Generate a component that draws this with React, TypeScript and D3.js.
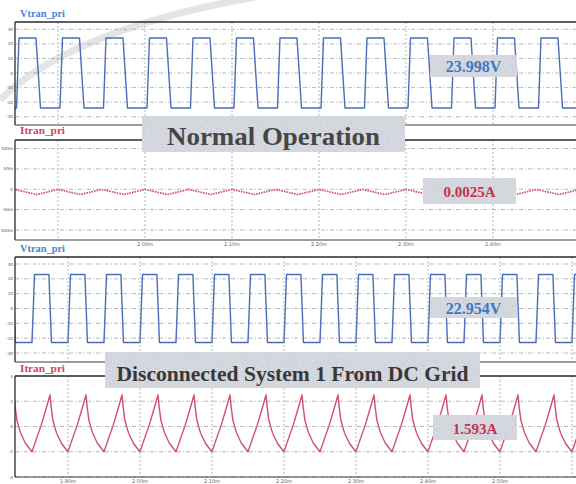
import React from "react";
import * as d3 from "d3";

const W = 576;
const H = 484;

// Switching period (ms) and the time window gridlines of each pair of panels
const period = 0.05;
const normalGridTimes = [1.9, 2.0, 2.1, 2.2, 2.3, 2.4];
const faultGridTimes = [1.9, 2.0, 2.1, 2.2, 2.3, 2.4, 2.5, 2.6];

// Axis ticks
const voltTicks = [30, 20, 10, 0, -10, -20, -30];
const normalCurrentTicks = [100, 50, 0, -50, -100];
const normalCurrentTickLabels = ["100m", "50m", "0", "-50m", "-100m"];
const faultCurrentTicks = [4, 2, 0, -2, -4];

// One switching cycle of each trace: [phase within the period, value]
const vNormalCycle: [number, number][] = [
  [0, -23.998], [0.057, 23.998], [0.448, 23.998], [0.552, -23.998], [1, -23.998],
];
const iNormalCycle: [number, number][] = [
  [0, -1.5], [0.47, -13], [0.95, -0.5], [1, -1.5],
];
const vFaultCycle: [number, number][] = [
  [0, -22.954], [0.07, 22.954], [0.47, 22.954], [0.54, -22.954], [1, -22.954],
];
const iFaultCycle: [number, number][] = [
  [0, -2.0], [0.12, -1.0], [0.25, 0.05], [0.375, 1.25], [0.5, 2.5],
  [0.53, 1.6], [0.58, 0.5], [0.68, -0.5], [0.82, -1.35], [1, -2.0],
];

// Start of a rising edge for each operating case (ms)
const normalEdge = 1.9023;
const faultEdge = 1.85;

// Readouts
const readouts = ["23.998V", "0.0025A", "22.954V", "1.593A"];
const traceNames = ["Vtran_pri", "Itran_pri", "Vtran_pri", "Itran_pri"];
const banners = ["Normal Operation", "Disconnected System 1 From DC Grid"];

const BLUE = "#4a6db8";
const RED = "#cf4f72";
const LEFT = 15;
const RIGHT = 582;

const xNormal = d3.scaleLinear().domain([1.9, 2.0]).range([58, 145]);
const xFault = d3.scaleLinear().domain([1.9, 2.0]).range([68, 140]);

function wave(cycle: [number, number][], edge: number, x: d3.ScaleLinear<number, number>) {
  const t0 = x.invert(LEFT);
  const t1 = x.invert(RIGHT);
  const kMin = Math.floor((t0 - edge) / period) - 1;
  const kMax = Math.ceil((t1 - edge) / period) + 1;
  const pts: [number, number][] = [];
  for (let k = kMin; k <= kMax; k++) {
    cycle.forEach(([ph, v], i) => {
      if (i === cycle.length - 1) return;
      pts.push([edge + (k + ph) * period, v]);
    });
  }
  return pts;
}

type PanelProps = {
  id: string;
  top: number;
  bottom: number;
  y: d3.ScaleLinear<number, number>;
  x: d3.ScaleLinear<number, number>;
  yTicks: number[];
  yLabels: string[];
  gridTimes: number[];
  data: [number, number][];
  color: string;
  dash?: string;
  name: string;
  nameColor: string;
  nameBaseline: number;
  xLabels: boolean;
};

function Panel(p: PanelProps) {
  const line = d3
    .line<[number, number]>()
    .x((d) => p.x(d[0]))
    .y((d) => p.y(d[1]));
  return (
    <g>
      <clipPath id={p.id}>
        <rect x={LEFT} y={p.top} width={RIGHT - LEFT} height={p.bottom - p.top} />
      </clipPath>
      {p.yTicks.map((v, i) => (
        <g key={"h" + v}>
          <line
            x1={LEFT}
            x2={RIGHT}
            y1={p.y(v)}
            y2={p.y(v)}
            stroke="#9a9a9a"
            strokeWidth={0.7}
            strokeDasharray="4,2,1,2"
          />
          <text
            x={13}
            y={p.y(v) + 1.6}
            fontSize={4.2}
            textAnchor="end"
            fill="#555"
            fontFamily="DejaVu Sans"
          >
            {p.yLabels[i]}
          </text>
        </g>
      ))}
      {p.gridTimes.map((t) => (
        <g key={"v" + t}>
          <line
            x1={p.x(t)}
            x2={p.x(t)}
            y1={p.top}
            y2={p.bottom}
            stroke="#9a9a9a"
            strokeWidth={0.7}
            strokeDasharray="2,2"
          />
          {p.xLabels && p.x(t) > 62 && p.x(t) < 560 && (
            <text
              x={p.x(t)}
              y={p.bottom + 6}
              fontSize={5}
              textAnchor="middle"
              fill="#666"
              fontFamily="DejaVu Sans"
            >
              {t.toFixed(2) + "m"}
            </text>
          )}
        </g>
      ))}
      <path
        d={line(p.data) || ""}
        fill="none"
        stroke={p.color}
        strokeWidth={p.dash ? 1.7 : 1.4}
        strokeDasharray={p.dash}
        strokeLinejoin="round"
        clipPath={`url(#${p.id})`}
      />
      <line x1={LEFT} x2={RIGHT} y1={p.top} y2={p.top} stroke="#2a2a2a" strokeWidth={1.5} />
      <line x1={LEFT} x2={RIGHT} y1={p.bottom} y2={p.bottom} stroke="#3a3a3a" strokeWidth={1.2} />
      <line x1={LEFT} x2={LEFT} y1={p.top} y2={p.bottom} stroke="#2a2a2a" strokeWidth={1.3} />
      <text
        x={20}
        y={p.nameBaseline}
        fontSize={10}
        fontWeight="bold"
        fill={p.nameColor}
        fontFamily="Liberation Serif"
        textLength={45}
        lengthAdjust="spacingAndGlyphs"
      >
        {p.name}
      </text>
    </g>
  );
}

function Tag(props: {
  x: number;
  y: number;
  w: number;
  h: number;
  text: string;
  color: string;
  size: number;
  baseline: number;
  len?: number;
}) {
  return (
    <g>
      <rect x={props.x} y={props.y} width={props.w} height={props.h} fill="#d9dce2" />
      <rect
        x={props.x}
        y={props.y}
        width={props.w}
        height={props.h}
        fill="#fff"
        filter="url(#grain)"
      />
      <text
        x={props.x + props.w / 2}
        y={props.baseline}
        textAnchor="middle"
        fontSize={props.size}
        fontWeight="bold"
        fill={props.color}
        fontFamily="Liberation Serif"
        textLength={props.len}
        lengthAdjust={props.len ? "spacingAndGlyphs" : undefined}
      >
        {props.text}
      </text>
    </g>
  );
}

export default function App() {
  const yV1 = d3.scaleLinear().domain([-30, 30]).range([116.7, 29.3]);
  const yI1 = d3.scaleLinear().domain([-100, 100]).range([230, 148.5]);
  const yV2 = d3.scaleLinear().domain([-30, 30]).range([353, 264]);
  const yI2 = d3.scaleLinear().domain([-4, 4]).range([477, 376]);

  return (
    <svg
      width={W}
      height={H}
      viewBox={`0 0 ${W} ${H}`}
      style={{ position: "absolute", left: 0, top: 0, background: "#fff" }}
    >
      <defs>
        <filter id="grain" x="0" y="0" width="100%" height="100%">
          <feTurbulence type="fractalNoise" baseFrequency="0.95" numOctaves="2" seed="4" result="n" />
          <feColorMatrix
            in="n"
            type="matrix"
            values="0 0 0 0 0.55  0 0 0 0 0.57  0 0 0 0 0.63  0 0 0 1.6 -0.55"
            result="g"
          />
          <feComposite in="g" in2="SourceGraphic" operator="in" />
        </filter>
      </defs>
      <rect x={0} y={0} width={W} height={H} fill="#fff" />

      <path
        d="M 0 100 Q 70 30 255 -3"
        fill="none"
        stroke="#c4c4c4"
        strokeWidth={7}
        opacity={0.45}
      />

      <Panel
        id="c1"
        top={22}
        bottom={125}
        y={yV1}
        x={xNormal}
        yTicks={voltTicks}
        yLabels={voltTicks.map(String)}
        gridTimes={normalGridTimes}
        data={wave(vNormalCycle, normalEdge, xNormal)}
        color={BLUE}
        name={traceNames[0]}
        nameColor="#3f86d6"
        nameBaseline={17}
        xLabels={false}
      />
      <Panel
        id="c2"
        top={140}
        bottom={240}
        y={yI1}
        x={xNormal}
        yTicks={normalCurrentTicks}
        yLabels={normalCurrentTickLabels}
        gridTimes={normalGridTimes}
        data={wave(iNormalCycle, normalEdge, xNormal)}
        color={RED}
        dash="1.6,1"
        name={traceNames[1]}
        nameColor="#d04468"
        nameBaseline={134}
        xLabels={true}
      />
      <Panel
        id="c3"
        top={257}
        bottom={362}
        y={yV2}
        x={xFault}
        yTicks={voltTicks}
        yLabels={voltTicks.map(String)}
        gridTimes={faultGridTimes}
        data={wave(vFaultCycle, faultEdge, xFault)}
        color={BLUE}
        name={traceNames[2]}
        nameColor="#3f86d6"
        nameBaseline={252}
        xLabels={false}
      />
      <Panel
        id="c4"
        top={376}
        bottom={477}
        y={yI2}
        x={xFault}
        yTicks={faultCurrentTicks}
        yLabels={faultCurrentTicks.map(String)}
        gridTimes={faultGridTimes}
        data={wave(iFaultCycle, faultEdge, xFault)}
        color={RED}
        name={traceNames[3]}
        nameColor="#d04468"
        nameBaseline={372}
        xLabels={true}
      />

      <Tag x={430} y={55} w={87} h={22} text={readouts[0]} color="#3b78c8" size={16} baseline={72} />
      <Tag x={423} y={178} w={93} h={26} text={readouts[1]} color="#c4324f" size={15} baseline={197} />
      <Tag x={430} y={297} w={87} h={21} text={readouts[2]} color="#3b78c8" size={16} baseline={314} />
      <Tag x={433} y={415} w={84} h={25} text={readouts[3]} color="#c4324f" size={15} baseline={434} />

      <Tag
        x={142}
        y={116}
        w={263}
        h={36}
        text={banners[0]}
        color="#464646"
        size={25}
        baseline={145}
        len={213}
      />
      <Tag
        x={105}
        y={352}
        w={375}
        h={36}
        text={banners[1]}
        color="#383838"
        size={20}
        baseline={381}
        len={352}
      />
    </svg>
  );
}
